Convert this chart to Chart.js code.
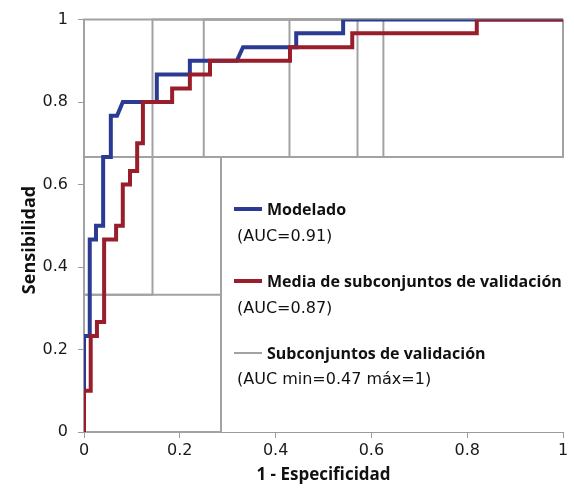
<!DOCTYPE html>
<html><head><meta charset="utf-8">
<script src="https://cdn.jsdelivr.net/npm/chart.js@4"></script>
<style>html,body{margin:0;padding:0;background:#fff}#wrap{width:574px;height:489px;position:relative}</style>
</head><body><div id="wrap"><canvas id="c"></canvas></div>
<script>
// ---- data ----
const xTickLabels = ['0', '0.2', '0.4', '0.6', '0.8', '1'];
const yTickLabels = ['0', '0.2', '0.4', '0.6', '0.8', '1'];
const xTitle = '1 - Especificidad';
const yTitle = 'Sensibilidad';

const seriesNames = ['Modelado', 'Media de subconjuntos de validación', 'Subconjuntos de validación'];
const seriesNotes = ['(AUC=0.91)', '(AUC=0.87)', '(AUC min=0.47 máx=1)'];

// Modelado
const modelFpr = [0, 0, 0.012, 0.012, 0.025, 0.025, 0.040, 0.040, 0.056, 0.056, 0.069, 0.081, 0.152, 0.152, 0.221, 0.221, 0.319, 0.332, 0.443, 0.443, 0.541, 0.541, 1];
const modelTpr = [0, 0.233, 0.233, 0.467, 0.467, 0.5, 0.5, 0.667, 0.667, 0.767, 0.767, 0.8, 0.8, 0.867, 0.867, 0.9, 0.9, 0.933, 0.933, 0.967, 0.967, 1, 1];

// Media de subconjuntos de validación
const mediaFpr = [0, 0, 0.014, 0.014, 0.027, 0.027, 0.042, 0.042, 0.067, 0.067, 0.081, 0.081, 0.096, 0.096, 0.111, 0.111, 0.123, 0.123, 0.184, 0.184, 0.221, 0.221, 0.263, 0.263, 0.430, 0.430, 0.560, 0.560, 0.820, 0.820, 1];
const mediaTpr = [0, 0.1, 0.1, 0.233, 0.233, 0.267, 0.267, 0.467, 0.467, 0.5, 0.5, 0.6, 0.6, 0.633, 0.633, 0.7, 0.7, 0.8, 0.8, 0.833, 0.833, 0.867, 0.867, 0.9, 0.9, 0.933, 0.933, 0.967, 0.967, 1, 1];

// Subconjuntos de validación
const subset1Fpr = [0, 0, 1];
const subset1Tpr = [0, 1, 1];
const subset2Fpr = [0, 0, 0.143, 0.143, 1];
const subset2Tpr = [0, 0.333, 0.333, 1, 1];
const subset3Fpr = [0, 0.286, 0.286, 1, 1];
const subset3Tpr = [0, 0, 0.667, 0.667, 1];
const subset4Fpr = [0, 0, 0.286, 0.286, 1, 1];
const subset4Tpr = [0, 0.333, 0.333, 0.667, 0.667, 1];
const subset5Fpr = [0, 0, 0.25, 0.25, 1];
const subset5Tpr = [0, 0.667, 0.667, 1, 1];
const subset6Fpr = [0, 0, 0.429, 0.429, 1];
const subset6Tpr = [0, 0.667, 0.667, 1, 1];
const subset7Fpr = [0, 0, 0.571, 0.571, 1];
const subset7Tpr = [0, 0.667, 0.667, 1, 1];
const subset8Fpr = [0, 0, 0.625, 0.625, 1];
const subset8Tpr = [0, 0.667, 0.667, 1, 1];

// ---- styling ----
const BLUE = '#2b3a93';
const RED = '#981e2b';
const GRAY = '#a2a2a2';
const AXIS = '#9a9a9a';
const REG_FONT = '"DejaVu Sans", sans-serif';
const BOLD_FONT = '"Open Sans", "DejaVu Sans", sans-serif';

const pts = (xs, ys) => xs.map((x, i) => ({x: x, y: ys[i]}));

const subsets = [
  [subset1Fpr, subset1Tpr], [subset2Fpr, subset2Tpr], [subset3Fpr, subset3Tpr], [subset4Fpr, subset4Tpr],
  [subset5Fpr, subset5Tpr], [subset6Fpr, subset6Tpr], [subset7Fpr, subset7Tpr], [subset8Fpr, subset8Tpr]
];

const datasets = [
  {label: seriesNames[1], data: pts(mediaFpr, mediaTpr), borderColor: RED, borderWidth: 4, order: 0},
  {label: seriesNames[0], data: pts(modelFpr, modelTpr), borderColor: BLUE, borderWidth: 4, order: 1}
].concat(subsets.map((s, i) => ({
  label: seriesNames[2] + ' ' + (i + 1), data: pts(s[0], s[1]), borderColor: GRAY, borderWidth: 2, order: 2, clip: 2
})));
datasets.forEach(d => { d.showLine = true; d.pointRadius = 0; d.pointHoverRadius = 0; d.tension = 0; d.fill = false; d.borderJoinStyle = 'miter'; d.borderCapStyle = 'butt'; });

const legendItems = [
  {color: BLUE, width: 4},
  {color: RED, width: 4},
  {color: GRAY, width: 2}
];

const overlayPlugin = {
  id: 'overlayText',
  afterDraw(chart) {
    const ctx = chart.ctx;
    const a = chart.chartArea;
    ctx.save();
    // y axis title
    ctx.fillStyle = '#111';
    ctx.font = 'bold 18px ' + BOLD_FONT;
    ctx.textAlign = 'center';
    ctx.textBaseline = 'middle';
    ctx.translate(30, 240);
    ctx.rotate(-Math.PI / 2);
    ctx.fillText(yTitle, 0, 0);
    ctx.restore();

    // legend
    ctx.save();
    const lx = a.left + 150;
    const rows = [209, 281, 353];
    const noteRows = [237, 309, 380];
    legendItems.forEach((it, i) => {
      ctx.strokeStyle = it.color;
      ctx.lineWidth = it.width;
      ctx.beginPath();
      ctx.moveTo(lx, rows[i]);
      ctx.lineTo(lx + 28, rows[i]);
      ctx.stroke();
      ctx.fillStyle = '#111';
      ctx.textAlign = 'left';
      ctx.textBaseline = 'middle';
      ctx.font = 'bold 16px ' + BOLD_FONT;
      ctx.fillText(seriesNames[i], lx + 33, rows[i] + 1);
      ctx.font = '16px ' + REG_FONT;
      ctx.fillText(seriesNotes[i], lx + 3, noteRows[i]);
    });
    ctx.restore();
  }
};

new Chart(document.getElementById('c'), {
  type: 'scatter',
  data: {datasets: datasets},
  options: {
    responsive: true,
    maintainAspectRatio: false,
    animation: false,
    events: [],
    layout: {padding: {top: 16, right: 11, bottom: 0, left: 0}},
    plugins: {legend: {display: false}, tooltip: {enabled: false}},
    scales: {
      x: {
        type: 'linear', min: 0, max: 1,
        afterFit: s => { s.height = 57; },
        ticks: {stepSize: 0.2, padding: 3, color: '#1a1a1a', font: {family: REG_FONT, size: 16},
          callback: (v, i) => xTickLabels[i]},
        grid: {display: true, drawOnChartArea: false, drawTicks: true, tickLength: 6, color: AXIS},
        border: {display: true, color: AXIS, width: 1},
        title: {display: true, text: xTitle, color: '#111', font: {family: BOLD_FONT, size: 17, weight: 'bold'}, padding: {top: 0, bottom: 4}}
      },
      y: {
        type: 'linear', min: 0, max: 1,
        afterFit: s => { s.width = 84; },
        ticks: {stepSize: 0.2, padding: 10, color: '#1a1a1a', font: {family: REG_FONT, size: 16},
          callback: (v, i) => yTickLabels[i]},
        grid: {display: true, drawOnChartArea: false, drawTicks: true, tickLength: 6, color: AXIS},
        border: {display: true, color: AXIS, width: 1}
      }
    }
  },
  plugins: [overlayPlugin]
});
</script>
</body></html>
